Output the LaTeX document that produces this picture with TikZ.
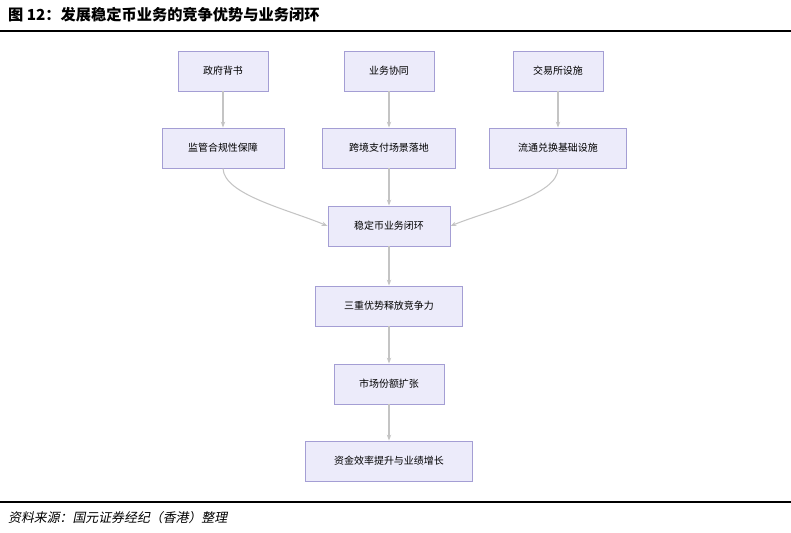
\documentclass[tikz,border=0pt]{standalone}
\usepackage{fontspec}
\setmainfont{Noto Sans CJK SC}[AutoFakeSlant=0.2]
\usetikzlibrary{arrows.meta}
\definecolor{boxfill}{HTML}{ECEBFA}
\definecolor{boxline}{HTML}{A49ED4}
\definecolor{flowgray}{HTML}{C4C4C4}
\begin{document}
\begin{tikzpicture}[x=0.03cm, y=-0.03cm, >={Stealth[length=5pt]}]

        \tikzstyle{stepbox}=[draw=boxline, fill=boxfill, line width=0.8pt, minimum height=1.2cm, font=\fontsize{8.5pt}{10pt}\selectfont, inner sep=0pt]
        \tikzstyle{flow}=[->, draw=flowgray, line width=0.9pt]

        \useasboundingbox (0,0) rectangle (791,532);

        % Title and rules
        \node[anchor=west, font=\fontsize{13pt}{15pt}\selectfont\bfseries] (title) at (4,15) {图 12：发展稳定币业务的竞争优势与业务闭环};
        \draw[line width=1.2pt] (0,31) -- (791,31);
        \draw[line width=1.2pt] (0,502) -- (791,502);
        \node[anchor=west, font=\fontsize{11pt}{13pt}\selectfont\itshape] (src) at (4,518) {资料来源：国元证券经纪（香港）整理};

        % Top row
        \node[stepbox, minimum width=2.7cm] (gov) at (223,71) {政府背书};
        \node[stepbox, minimum width=2.7cm] (syn) at (389,71) {业务协同};
        \node[stepbox, minimum width=2.7cm] (exc) at (558,71) {交易所设施};

        % Second row
        \node[stepbox, minimum width=3.66cm] (reg) at (223,148) {监管合规性保障};
        \node[stepbox, minimum width=4.0cm] (pay) at (389,148) {跨境支付场景落地};
        \node[stepbox, minimum width=4.1cm] (inf) at (558,148) {流通兑换基础设施};

        % Main chain
        \node[stepbox, minimum width=3.66cm] (loop) at (389,226) {稳定币业务闭环};
        \node[stepbox, minimum width=4.4cm] (tri) at (389,306) {三重优势释放竞争力};
        \node[stepbox, minimum width=3.3cm] (share) at (389,384) {市场份额扩张};
        \node[stepbox, minimum width=5.0cm] (fund) at (389,461) {资金效率提升与业绩增长};

        % Connect
        \foreach \a/\b in {gov/reg, syn/pay, exc/inf, pay/loop, loop/tri, tri/share, share/fund}
                \draw[flow] (\a) -- (\b);
        \draw[flow] (reg.south) .. controls (224,195) and (290,210) .. (loop.west);
        \draw[flow] (inf.south) .. controls (558,195) and (490,210) .. (loop.east);

\end{tikzpicture}
\end{document}
